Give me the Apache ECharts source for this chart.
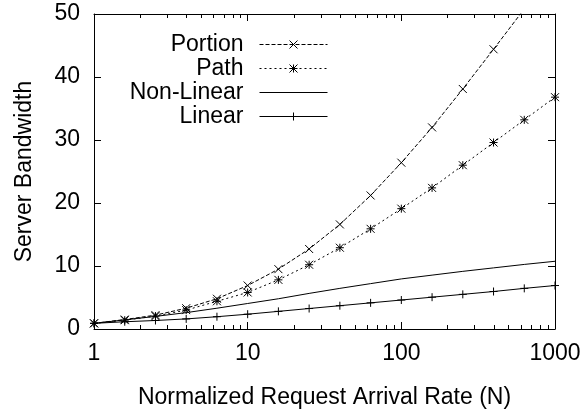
<!DOCTYPE html>
<html>
<head>
<meta charset="utf-8">
<style>
  html, body { margin: 0; padding: 0; background: #fff; }
  .chart { width: 585px; height: 412px; }
</style>
<script src="https://cdn.jsdelivr.net/npm/echarts@6/dist/echarts.min.js"></script>
</head>
<body>
<div class="chart"></div>
<script>
// 数据：横轴 N（每 0.2 个数量级一个点）
var rates = [1, 1.585, 2.512, 3.981, 6.31, 10, 15.85, 25.12, 39.81, 63.1, 100, 158.5, 251.2, 398.1, 631, 1000];
var portion = [0.9, 1.5, 2.2, 3.3, 4.8, 6.9, 9.5, 12.7, 16.6, 21.2, 26.4, 32.0, 38.1, 44.4, 50.8, 57.5];
var path = [0.9, 1.4, 2.05, 3.0, 4.4, 5.8, 7.8, 10.2, 12.9, 15.9, 19.1, 22.4, 26.0, 29.6, 33.2, 36.8];
var nonLinear = [0.9, 1.45, 2.0, 2.6, 3.3, 4.05, 4.8, 5.65, 6.45, 7.2, 7.95, 8.55, 9.15, 9.7, 10.25, 10.75];
var linear = [0.9, 1.15, 1.35, 1.6, 1.95, 2.35, 2.8, 3.25, 3.7, 4.15, 4.6, 5.05, 5.5, 5.95, 6.45, 6.9];
var xTicks = [1, 10, 100, 1000];
var yTicks = [0, 10, 20, 30, 40, 50];

;(function() {
  var myChart = echarts.init(document.querySelector(".chart"));
  var font = "'Liberation Sans', Arial, Helvetica, sans-serif";

  // 把横轴和纵轴的值配成点
  function pairs(ys) {
    return rates.map(function(n, i) { return [n, ys[i]]; });
  }

  // 对数轴的次刻度 2..9
  var minor = [];
  for (var d = 1; d < 1000; d *= 10) {
    for (var k = 2; k <= 9; k++) minor.push(k * d);
  }

  // gnuplot 风格的点形状
  var crossMark = "path://M0,0L8,8M0,8L8,0";
  var plusMark = "path://M4,0L4,8M0,4L8,4";
  var starMark = "path://M0,0L8,8M0,8L8,0M4,0L4,8M0,4L8,4";

  function logAxis(pos, ticks, len, showLine, showLabel) {
    return {
      type: "log",
      logBase: 10,
      position: pos,
      min: 1,
      max: 1000,
      axisLine: { show: showLine, lineStyle: { color: "#000", width: 1 } },
      axisTick: { show: true, inside: true, length: len, customValues: ticks, lineStyle: { color: "#000" } },
      axisLabel: {
        show: showLabel,
        customValues: xTicks,
        margin: 13,
        color: "#000",
        fontSize: 23,
        fontFamily: font,
        formatter: function(v) { return String(Math.round(v)); }
      },
      splitLine: { show: false },
      minorSplitLine: { show: false }
    };
  }

  function valAxis(pos, showLabel) {
    return {
      type: "value",
      position: pos,
      min: yTicks[0],
      max: yTicks[yTicks.length - 1],
      interval: 10,
      axisLine: { show: true, lineStyle: { color: "#000", width: 1 } },
      axisTick: { show: true, inside: true, length: 7, lineStyle: { color: "#000" } },
      axisLabel: { show: showLabel, margin: 14, color: "#000", fontSize: 23, fontFamily: font },
      splitLine: { show: false }
    };
  }

  function lineSeries(name, ys, dash, mark) {
    return {
      name: name,
      type: "line",
      data: pairs(ys),
      symbol: mark || "none",
      symbolSize: 8,
      showSymbol: !!mark,
      clip: true,
      lineStyle: { color: "#000", width: 1, type: dash },
      itemStyle: { color: "#000", borderColor: "#000", borderWidth: 1 },
      emphasis: { disabled: true }
    };
  }

  var xBottom = logAxis("bottom", xTicks, 7, true, true);
  xBottom.name = "Normalized Request Arrival Rate (N)";
  xBottom.nameLocation = "middle";
  xBottom.nameGap = 57;
  xBottom.nameTextStyle = { color: "#000", fontSize: 23, fontFamily: font };

  var yLeft = valAxis("left", true);
  yLeft.name = "Server Bandwidth";
  yLeft.nameLocation = "middle";
  yLeft.nameGap = 58;
  yLeft.nameTextStyle = { color: "#000", fontSize: 23, fontFamily: font };

  var option = {
    animation: false,
    backgroundColor: "#fff",
    grid: { left: 94, right: 30, top: 14, bottom: 83, containLabel: false, outerBoundsMode: "none" },
    legend: {
      orient: "vertical",
      align: "right",
      right: 257,
      top: 33,
      padding: 0,
      itemWidth: 68,
      itemHeight: 10,
      itemGap: 1,
      selectedMode: false,
      lineStyle: { width: 1 },
      itemStyle: { borderWidth: 1 },
      textStyle: { color: "#000", fontSize: 23, fontFamily: font, lineHeight: 22, padding: [0, 11, 0, 0] },
      // Non-Linear 没有点，图例里把点隐藏，只留线
      data: ["Portion", "Path", { name: "Non-Linear", itemStyle: { opacity: 0 } }, "Linear"]
    },
    xAxis: [
      xBottom,
      logAxis("bottom", minor, 4, false, false),
      logAxis("top", xTicks, 7, true, false),
      logAxis("top", minor, 4, false, false)
    ],
    yAxis: [yLeft, valAxis("right", false)],
    series: [
      lineSeries("Portion", portion, [4, 2], crossMark),
      lineSeries("Path", path, [2, 3], starMark),
      lineSeries("Non-Linear", nonLinear, "solid", null),
      lineSeries("Linear", linear, "solid", plusMark)
    ]
  };

  myChart.setOption(option);
  window.addEventListener("resize", function() {
    myChart.resize();
  });
})();
</script>
</body>
</html>
